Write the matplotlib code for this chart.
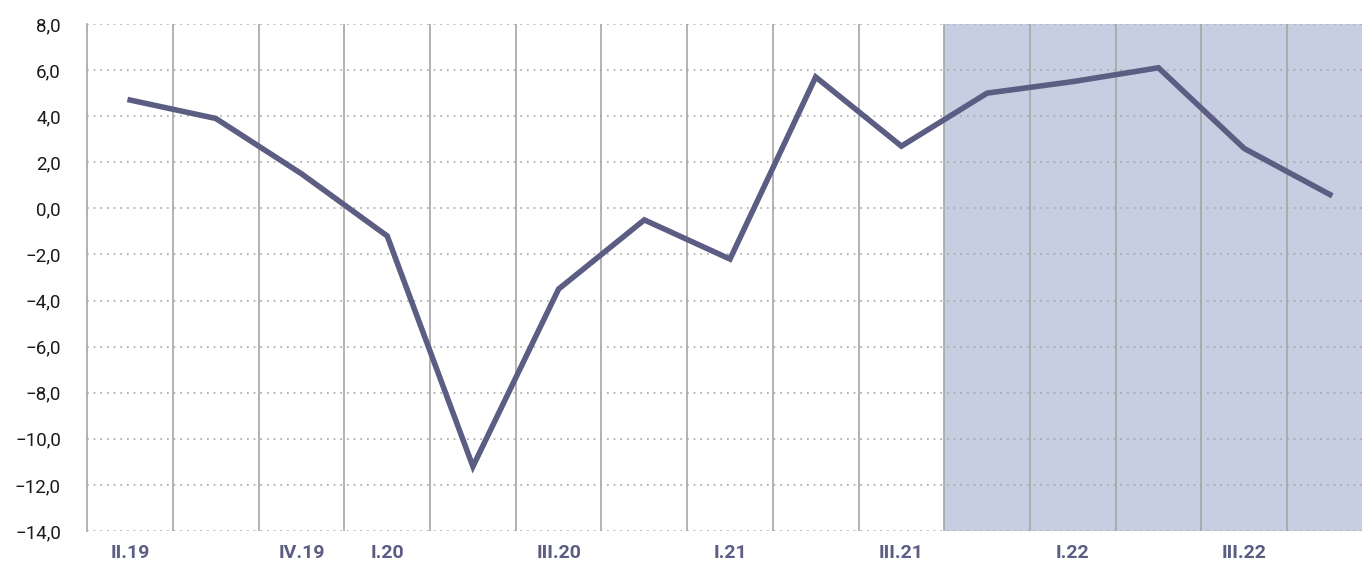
import matplotlib
matplotlib.use("Agg")
import matplotlib.pyplot as plt
import numpy as np

quarters = ["II.19", "III.19", "IV.19", "I.20", "II.20", "III.20", "IV.20", "I.21",
            "II.21", "III.21", "IV.21", "I.22", "II.22", "III.22", "IV.22"]
values = [4.7, 3.9, 1.5, -1.2, -11.2, -3.5, -0.5, -2.2, 5.7, 2.7, 5.0, 5.5, 6.1, 2.6, 0.6]
shown_labels = ["II.19", "IV.19", "I.20", "III.20", "I.21", "III.21", "I.22", "III.22"]
forecast_start = "IV.21"
y_ticks = [8, 6, 4, 2, 0, -2, -4, -6, -8, -10, -12, -14]

plt.rcParams['font.family'] = ['Roboto', 'DejaVu Sans']

W, H = 1362, 563
fig = plt.figure(figsize=(W / 100, H / 100), dpi=100)
step = (1287 - 173) / 13.0
left_px = 173 - step
ax = fig.add_axes([left_px / W, 1 - 531 / H, 15 * step / W, (531 - 24) / H])

x = np.arange(len(quarters))
fs = quarters.index(forecast_start)
ax.axvspan(fs - 0.5, len(quarters) - 0.5, color="#c5cfe1", zorder=0, lw=0)

for b in np.arange(0.5, len(quarters) - 0.5, 1.0):
    ax.axvline(b, color="#a6a6a6", lw=1.2, zorder=1)

for yt in y_ticks:
    ax.axhline(yt, color="#a6a6a6", lw=1.2, ls=(0, (1, 3)), zorder=1)

ax.plot(x, values, color="#5b5d82", lw=4, solid_joinstyle="miter", zorder=3)

ax.set_xlim(-0.5, len(quarters) - 0.5)
ax.set_ylim(-14, 8)
ax.set_yticks(y_ticks)
ax.set_yticklabels([f"{v:.1f}".replace(".", ",").replace("-", "\u2212") for v in y_ticks],
                   fontsize=13.5, color="#1a1a1a")
pos = [quarters.index(l) for l in shown_labels]
ax.set_xticks(pos)
ax.set_xticklabels(shown_labels, fontsize=14, fontweight="bold", color="#5b5d82")
ax.tick_params(axis="both", length=0)
ax.tick_params(axis="y", pad=19)
ax.tick_params(axis="x", pad=9)

for s in ["top", "right", "bottom"]:
    ax.spines[s].set_visible(False)
ax.spines["left"].set_color("#a6a6a6")
ax.spines["left"].set_linewidth(1.2)

fig.savefig("out.png", dpi=100)
